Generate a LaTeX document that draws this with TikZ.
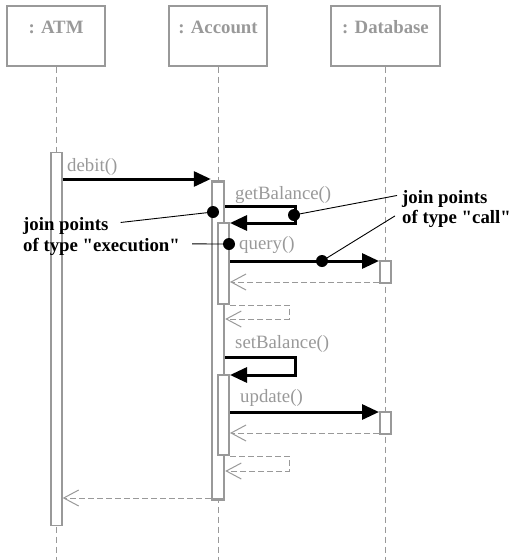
\documentclass[tikz,border=0pt]{standalone}
\usepackage{fontspec}
\setmainfont{Liberation Serif}[Ligatures=TeXOff]
\usetikzlibrary{arrows.meta}
\definecolor{umlgray}{HTML}{999999}
\begin{document}
\begin{tikzpicture}[x=1pt,y=-1pt,
  every node/.style={font=\fontsize{18.8pt}{22pt}\selectfont},
  headbox/.style={draw=umlgray, line width=1.3pt, minimum width=98pt, minimum height=60pt, inner sep=0pt},
  headtxt/.style={text=umlgray, font=\fontsize{18.8pt}{22pt}\selectfont\bfseries, inner sep=0pt, anchor=base},
  lifeline/.style={draw=umlgray, line width=1pt, dash pattern=on 6pt off 4pt},
  actbox/.style={draw=umlgray, fill=white, line width=1.6pt, inner sep=0pt, minimum width=11pt, anchor=north},
  msg/.style={draw=black, line width=3pt, line join=miter, -{Triangle[length=17pt,width=15pt]}},
  ret/.style={draw=umlgray, line width=1pt, dash pattern=on 6pt off 3pt, -{Straight Barb[length=15pt,width=16pt]}},
  lbl/.style={text=umlgray, anchor=base west, inner sep=0pt},
  note/.style={text=black, font=\fontsize{18.8pt}{22pt}\selectfont\bfseries, anchor=base west, inner sep=0pt},
  jp/.style={circle, fill=black, inner sep=0pt, minimum size=12pt},
  pointer/.style={draw=black, line width=0.9pt}
]
\useasboundingbox (0,0) rectangle (511,560);

% object heads
\node[headbox] (atm) at (56,36) {};
\node[headbox] (acc) at (218,36) {};
\node[headbox, minimum width=109pt] (db) at (385.5,36) {};
\node[headtxt] (atmName) at (atm.north |- 0,33) {: ATM};
\node[headtxt] (accName) at (acc.north |- 0,33) {: Account};
\node[headtxt] (dbName) at (db.north |- 0,33) {: Database};

% lifelines
\draw[lifeline] (atm.south) -- (atm.south |- 0,560);
\draw[lifeline] (acc.south) -- (acc.south |- 0,560);
\draw[lifeline] (db.south) -- (db.south |- 0,560);

% activation bars
\node[actbox, line width=1.3pt, minimum height=373pt] (atmAct) at (56.5,152) {};
\node[actbox, line width=2.5pt, minimum width=12pt, minimum height=318pt] (accOuter) at (218,180) {};
\node[actbox, line width=2pt, minimum height=81pt] (accIn1) at (223.5,222) {};
\node[actbox, line width=2pt, minimum height=80pt] (accIn2) at (223.5,374) {};
\node[actbox, line width=2pt, minimum height=22pt] (db1) at (385.5,260) {};
\node[actbox, line width=2pt, minimum height=22pt] (db2) at (385.5,411) {};

% calls
\draw[msg] (atmAct.east |- 0,179) -- (accOuter.west |- 0,179);
\draw[msg] (accOuter.east |- 0,206) -- ++(70,0) |- (accIn1.east |- 0,223);
\draw[msg] (accIn1.east |- 0,261) -- (db1.west |- 0,261);
\draw[msg] (accOuter.east |- 0,357) -- ++(70,0) |- (accIn2.east |- 0,375);
\draw[msg] (accIn2.east |- 0,412) -- (db2.west |- 0,412);

% returns
\draw[ret] (db1.west |- 0,282) -- (accIn1.east |- 0,282);
\draw[ret] (accIn1.south east) -- ++(59,0) |- (accOuter.east |- 0,319);
\draw[ret] (db2.west |- 0,433) -- (accIn2.east |- 0,433);
\draw[ret] (accIn2.south east) -- ++(59,0) |- (accOuter.east |- 0,471);
\draw[ret] (accOuter.west |- 0,498) -- (atmAct.east |- 0,498);

% message labels
\node[lbl] (lDebit) at (67,171) {debit()};
\node[lbl] (lGet) at (235,199) {getBalance()};
\node[lbl] (lQuery) at (239,249) {query()};
\node[lbl] (lSet) at (235,348) {setBalance()};
\node[lbl] (lUpdate) at (240,402) {update()};

% join point annotations
\node[note] (jpL1) at (23,230) {join points};
\node[note] (jpL2) at (23,251) {of type "execution"};
\node[note] (jpR1) at (402,203) {join points};
\node[note] (jpR2) at (402,223) {of type "call"};

\node[jp] (e1) at (213,212) {};
\node[jp] (e2) at (229,244) {};
\node[jp] (c1) at (294,215) {};
\node[jp] (c2) at (322,261) {};

\draw[pointer] ([xshift=12pt,yshift=3pt]jpL1.east) -- (e1.center);
\draw[pointer] ([xshift=12pt,yshift=2.5pt]jpL2.east) -- (e2.center);
\draw[pointer] ([xshift=-5pt,yshift=3pt]jpR1.west) -- (c1.center);
\draw[pointer] ([xshift=-7pt,yshift=2.5pt]jpR2.west) -- (c2.center);
\end{tikzpicture}
\end{document}
